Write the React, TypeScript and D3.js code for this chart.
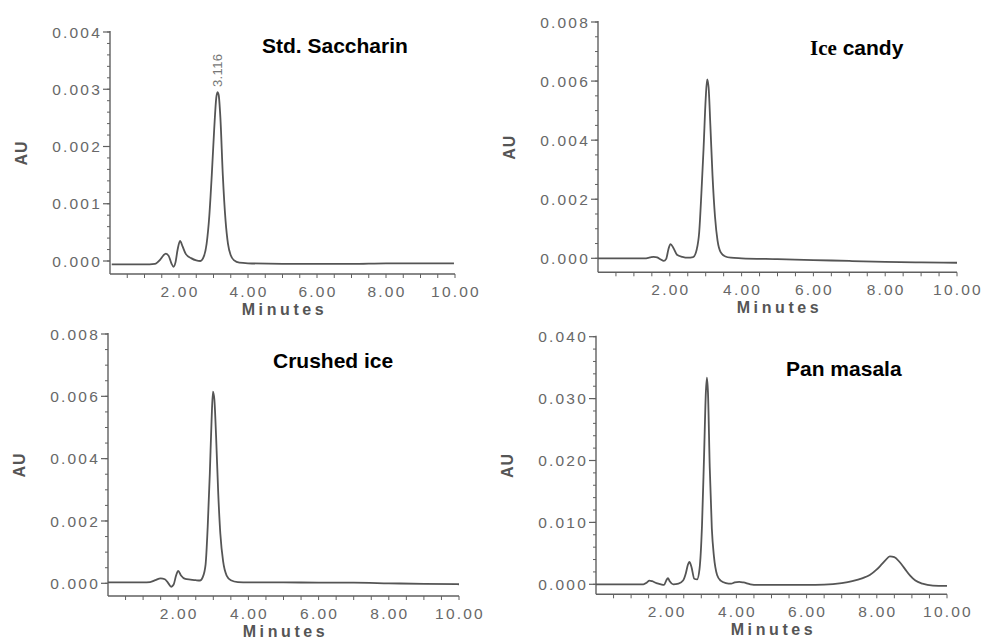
import React, { useEffect, useRef } from 'react';
import * as d3 from 'd3';

// Std. Saccharin
const stdTimes = [0.05, 0.5, 1.0, 1.3, 1.45, 1.55, 1.62, 1.7, 1.78, 1.84, 1.9, 1.96, 2.03, 2.1, 2.2, 2.35, 2.5, 2.62, 2.72, 2.8, 2.88, 2.95, 3.02, 3.08, 3.116, 3.15, 3.2, 3.27, 3.35, 3.42, 3.5, 3.6, 3.75, 4.0, 5.0, 6.0, 7.0, 8.0, 9.0, 9.97];
const stdValues = [-0.00006, -0.00006, -0.00006, -0.00005, 0.00002, 0.0001, 0.00013, 0.00009, -0.00004, -0.0001, -0.00002, 0.0002, 0.00035, 0.00026, 0.00012, 0.00005, 0.00001, 0.0, 0.00008, 0.0003, 0.0008, 0.0015, 0.0023, 0.00285, 0.00295, 0.0029, 0.0025, 0.0015, 0.0007, 0.0003, 0.0001, 0.00001, -0.00003, -0.00004, -0.00005, -0.00005, -0.00005, -0.00004, -0.00004, -0.00004];

// Ice candy
const iceTimes = [0.0, 0.5, 1.0, 1.3, 1.45, 1.55, 1.65, 1.75, 1.83, 1.9, 1.96, 2.02, 2.1, 2.2, 2.35, 2.5, 2.65, 2.75, 2.82, 2.88, 2.94, 3.0, 3.04, 3.08, 3.13, 3.19, 3.26, 3.33, 3.42, 3.55, 3.7, 4.0, 5.0, 6.0, 7.0, 8.0, 9.0, 10.0];
const iceValues = [0.0, 0.0, 0.0, 0.0, 0.00003, 0.00005, 0.00003, -0.00004, -0.00009, -0.00002, 0.0003, 0.00048, 0.00035, 0.00012, 0.00005, 0.00002, 0.00004, 0.0003, 0.0009, 0.0022, 0.0037, 0.0054, 0.00606, 0.0058, 0.0045, 0.0028, 0.0014, 0.0006, 0.0002, 0.00006, 0.00002, 0.0, -0.00003, -0.00006, -0.00009, -0.00012, -0.00014, -0.00015];

// Crushed ice
const crushedTimes = [0.0, 0.5, 1.0, 1.2, 1.35, 1.5, 1.62, 1.72, 1.8, 1.87, 1.94, 2.0, 2.08, 2.2, 2.35, 2.5, 2.62, 2.7, 2.78, 2.84, 2.9, 2.95, 2.99, 3.03, 3.08, 3.14, 3.2, 3.28, 3.38, 3.5, 3.7, 4.0, 5.0, 6.0, 7.0, 8.0, 9.0, 10.0];
const crushedValues = [0.00003, 0.00003, 0.00003, 0.00004, 0.0001, 0.00016, 0.00013, 0.0, -0.00011, -0.00004, 0.00025, 0.0004, 0.00025, 0.00014, 0.00012, 0.0001, 0.00009, 0.0002, 0.0006, 0.0018, 0.0035, 0.0052, 0.00615, 0.0059, 0.0047, 0.0029, 0.0016, 0.0007, 0.00025, 0.0001, 0.00004, 0.00003, 0.00003, 0.00002, 0.00002, 0.0, -0.00002, -0.00003];

// Pan masala
const panTimes = [0.0, 0.5, 1.0, 1.35, 1.45, 1.52, 1.6, 1.72, 1.85, 1.94, 2.0, 2.05, 2.1, 2.2, 2.35, 2.48, 2.56, 2.62, 2.66, 2.72, 2.8, 2.88, 2.95, 3.02, 3.08, 3.13, 3.16, 3.19, 3.24, 3.3, 3.36, 3.45, 3.55, 3.7, 3.85, 3.95, 4.08, 4.2, 4.4, 4.6, 5.0, 5.5, 6.0, 6.5, 7.0, 7.3, 7.6, 7.8, 8.0, 8.15, 8.25, 8.37, 8.5, 8.65, 8.8, 8.95, 9.1, 9.3, 9.6, 10.0];
const panValues = [0.0, 0.0, 0.0, 0.0, 0.0003, 0.0006, 0.0005, 0.0002, 0.0, -0.0001, 0.0006, 0.001, 0.0005, 0.0, 0.0001, 0.0006, 0.0018, 0.0032, 0.0036, 0.0028, 0.0009, 0.0008, 0.0025, 0.0095, 0.021, 0.031, 0.0334, 0.031, 0.019, 0.009, 0.0045, 0.0015, 0.0006, 0.0002, 0.0001, 0.0003, 0.0004, 0.0003, 0.0, -0.0001, -0.0001, -0.0001, -0.0001, -0.00005, 0.0002, 0.0005, 0.001, 0.0015, 0.0024, 0.0033, 0.0039, 0.0045, 0.0044, 0.0036, 0.0025, 0.0014, 0.0006, 0.0001, -0.0002, -0.00025];

const xLabelTicks = [2, 4, 6, 8, 10];
const titles = ['Std. Saccharin', 'Ice candy', 'Crushed ice', 'Pan masala'];
const yMaxes = [0.004, 0.008, 0.008, 0.04];
const yMajorSteps = [0.001, 0.002, 0.002, 0.01];
const yMinorSteps = [0.0002, 0.0005, 0.0005, 0.002];
const peakLabel = { panel: 0, time: 3.116, value: 0.00295, text: '3.116' };

// pixel boxes of each panel: left, right, top (= yMax), zero line, x axis line
const boxes = [
  { left: 110, right: 455, top: 32, zero: 261, axisY: 274, titleX: 262, titleY: 53 },
  { left: 598, right: 957, top: 22, zero: 258.3, axisY: 272.3, titleX: 810, titleY: 55 },
  { left: 108, right: 459, top: 334, zero: 583.3, axisY: 596, titleX: 273, titleY: 368 },
  { left: 596, right: 947, top: 336.7, zero: 584.3, axisY: 594.3, titleX: 786, titleY: 376 },
];

const series = [
  { times: stdTimes, values: stdValues },
  { times: iceTimes, values: iceValues },
  { times: crushedTimes, values: crushedValues },
  { times: panTimes, values: panValues },
];

const AXIS = '#606060';
const TEXT = '#686868';
const LINE = '#555';

const App = () => {
  const svgRef = useRef<SVGSVGElement | null>(null);

  useEffect(() => {
    document.body.style.margin = '0';
    const svg = d3.select(svgRef.current);
    svg.selectAll('*').remove();

    series.forEach((s, i) => {
      const b = boxes[i];
      const g = svg.append('g');

      const x = d3.scaleLinear().domain([0, 10]).range([b.left, b.right]);
      const y = d3.scaleLinear().domain([0, yMaxes[i]]).range([b.zero, b.top]);

      // axis lines
      g.append('line')
        .attr('x1', b.left).attr('x2', b.left)
        .attr('y1', b.top - 1).attr('y2', b.axisY)
        .attr('stroke', AXIS).attr('stroke-width', 1.4);
      g.append('line')
        .attr('x1', b.left).attr('x2', b.right)
        .attr('y1', b.axisY).attr('y2', b.axisY)
        .attr('stroke', AXIS).attr('stroke-width', 1.4);

      // y minor ticks
      const nMinor = Math.round(yMaxes[i] / yMinorSteps[i]);
      const minor = d3.range(0, nMinor + 1).map(k => k * yMinorSteps[i]);
      g.selectAll('.ymin')
        .data(minor)
        .enter()
        .append('line')
        .attr('x1', b.left - 3).attr('x2', b.left)
        .attr('y1', d => y(d)).attr('y2', d => y(d))
        .attr('stroke', AXIS).attr('stroke-width', 1);

      // y major ticks + labels
      const nMajor = Math.round(yMaxes[i] / yMajorSteps[i]);
      const major = d3.range(0, nMajor + 1).map(k => k * yMajorSteps[i]);
      g.selectAll('.ymaj')
        .data(major)
        .enter()
        .append('line')
        .attr('x1', b.left - 7).attr('x2', b.left)
        .attr('y1', d => y(d)).attr('y2', d => y(d))
        .attr('stroke', AXIS).attr('stroke-width', 1.2);
      g.selectAll('.ylab')
        .data(major)
        .enter()
        .append('text')
        .attr('x', b.left - 8)
        .attr('y', d => y(d))
        .attr('dy', '0.36em')
        .attr('text-anchor', 'end')
        .style('font-family', 'Liberation Sans, Arial, sans-serif')
        .style('font-size', '15.5px')
        .style('letter-spacing', '2.2px')
        .attr('fill', TEXT)
        .text(d => d3.format('.3f')(d));

      // x ticks every half minute
      const xt = d3.range(1, 21).map(k => k * 0.5);
      g.selectAll('.xt')
        .data(xt)
        .enter()
        .append('line')
        .attr('x1', d => x(d)).attr('x2', d => x(d))
        .attr('y1', b.axisY).attr('y2', b.axisY + 4)
        .attr('stroke', AXIS).attr('stroke-width', 1);

      g.selectAll('.xlab')
        .data(xLabelTicks)
        .enter()
        .append('text')
        .attr('x', d => x(d) + 1)
        .attr('y', b.axisY + 23)
        .attr('text-anchor', 'middle')
        .style('font-family', 'Liberation Sans, Arial, sans-serif')
        .style('font-size', '15.5px')
        .style('letter-spacing', '2.2px')
        .attr('fill', TEXT)
        .text(d => d3.format('.2f')(d));

      // axis titles
      g.append('text')
        .attr('x', (b.left + b.right) / 2 + 2)
        .attr('y', b.axisY + 41)
        .attr('text-anchor', 'middle')
        .style('font-family', 'Liberation Sans, Arial, sans-serif')
        .style('font-size', '16px')
        .style('font-weight', 'bold')
        .style('letter-spacing', '3.6px')
        .attr('fill', '#555')
        .text('Minutes');

      g.append('text')
        .attr('transform', `translate(${b.left - 83},${(b.top + b.axisY) / 2}) rotate(-90)`)
        .attr('text-anchor', 'middle')
        .style('font-family', 'Liberation Sans, Arial, sans-serif')
        .style('font-size', '16px')
        .style('font-weight', 'bold')
        .style('letter-spacing', '1px')
        .attr('fill', '#555')
        .text('AU');

      // chart title
      const t = g.append('text')
        .attr('x', b.titleX)
        .attr('y', b.titleY)
        .style('font-family', 'Liberation Sans, Arial, sans-serif')
        .style('font-size', '21px')
        .style('font-weight', 'bold')
        .attr('fill', '#000');
      if (titles[i] === 'Ice candy') {
        t.append('tspan').style('font-family', 'Liberation Serif, Times New Roman, serif').text('Ice');
        t.append('tspan').text(' candy');
      } else {
        t.text(titles[i]);
      }

      // trace
      const pts = s.times.map((tm, k) => [tm, s.values[k]] as [number, number]);
      const line = d3.line<[number, number]>()
        .x(d => x(d[0]))
        .y(d => y(d[1]))
        .curve(d3.curveMonotoneX);
      g.append('path')
        .datum(pts)
        .attr('fill', 'none')
        .attr('stroke', LINE)
        .attr('stroke-width', 1.8)
        .attr('stroke-linejoin', 'round')
        .attr('d', line);

      if (peakLabel.panel === i) {
        g.append('text')
          .attr('transform', `translate(${x(peakLabel.time) + 4},${y(peakLabel.value) - 5}) rotate(-90)`)
          .style('font-family', 'Liberation Sans, Arial, sans-serif')
          .style('font-size', '13px')
          .style('letter-spacing', '0.4px')
          .attr('fill', '#777')
          .text(peakLabel.text);
      }
    });
  }, []);

  return (
    <svg
      ref={svgRef}
      width={985}
      height={641}
      style={{ position: 'absolute', left: 0, top: 0, background: '#fff' }}
    />
  );
};

export default App;
